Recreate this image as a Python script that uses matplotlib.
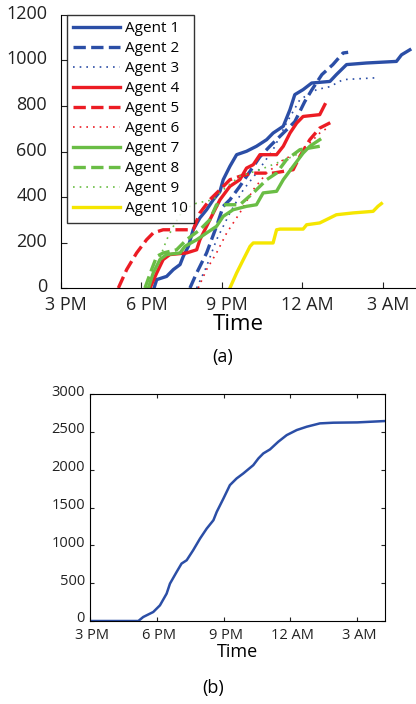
import numpy as np
import matplotlib
matplotlib.use('Agg')
import matplotlib.pyplot as plt
import matplotlib.transforms as mtransforms

plt.rcParams['font.family'] = ['Open Sans', 'DejaVu Sans']

# hours since midnight of the start day (15 = 3 PM, 27 = 3 AM)
a1_t = [18.47, 18.57, 18.94, 19.19, 19.44, 19.56, 19.75, 19.93, 20.18, 20.43, 20.68, 20.93, 21.05,
        21.30, 21.55, 21.92, 22.29, 22.67, 22.91, 23.29, 23.54, 23.72, 24.03, 24.35, 25.03, 25.27,
        25.65, 26.39, 27.51, 27.70, 28.01]
a1_v = [0, 37, 51, 81, 103, 139, 183, 256, 308, 344, 388, 425, 476, 535, 586, 601, 623, 652, 681,
        711, 784, 850, 872, 901, 908, 938, 982, 989, 996, 1025, 1047]

a2_t = [19.81, 20.06, 20.43, 20.80, 21.05, 21.30, 21.67, 22.42, 22.79, 23.72, 24.09, 24.36, 24.73,
        25.14, 25.52, 25.71]
a2_v = [0, 66, 154, 271, 359, 388, 447, 577, 623, 731, 819, 872, 938, 982, 1033, 1036]

a3_t = [20.06, 20.43, 20.80, 21.30, 21.80, 22.29, 22.91, 23.41, 23.91, 24.53, 25.03, 25.52, 26.77]
a3_v = [0, 95, 212, 330, 432, 505, 608, 725, 828, 872, 885, 916, 924]

a4_t = [18.32, 18.57, 18.81, 19.06, 19.68, 20.06, 20.18, 20.43, 20.68, 20.93, 21.30, 21.67, 21.92,
        22.17, 22.42, 23.04, 23.29, 23.54, 23.79, 24.03, 24.65, 24.84]
a4_v = [0, 66, 125, 147, 154, 168, 212, 271, 330, 388, 447, 476, 527, 542, 586, 586, 623, 681,
        725, 754, 762, 806]

a5_t = [17.14, 17.45, 17.82, 18.19, 18.44, 18.81, 19.93, 20.18, 20.55, 20.93, 21.30, 21.67, 22.17,
        22.91, 23.66, 23.91, 24.28, 24.65, 25.15]
a5_v = [0, 81, 154, 212, 242, 256, 256, 330, 388, 432, 476, 491, 505, 505, 520, 579, 652, 703, 733]

a6_t = [20.12, 20.43, 20.80, 21.18, 21.67, 22.17, 22.67, 23.29, 23.79, 24.28, 24.65, 25.03]
a6_v = [0, 81, 154, 242, 330, 432, 505, 564, 593, 637, 681, 711]

a7_t = [18.26, 18.44, 18.69, 18.94, 19.44, 19.62, 20.06, 20.43, 20.80, 21.05, 21.42, 21.92, 22.29,
        22.54, 23.04, 23.29, 23.66, 24.03, 24.28, 24.65]
a7_v = [0, 66, 125, 147, 154, 183, 212, 242, 271, 315, 344, 359, 366, 418, 425, 476, 535, 593,
        623, 652]

a8_t = [18.13, 18.38, 18.57, 18.81, 19.31, 19.68, 20.18, 20.55, 20.80, 21.42, 21.67, 22.17, 22.67,
        23.04, 23.41, 23.91, 24.65]
a8_v = [0, 81, 139, 154, 168, 212, 256, 300, 366, 366, 366, 418, 476, 505, 564, 608, 623]

a9_t = [18.19, 18.57, 18.94, 19.19, 19.56, 20.06, 20.68, 21.05, 21.67, 22.42, 23.04, 23.66, 24.16]
a9_v = [0, 95, 212, 271, 344, 373, 388, 432, 491, 520, 549, 579, 608]

a10_t = [21.30, 21.55, 21.80, 22.05, 22.17, 22.91, 23.04, 23.17, 24.03, 24.16, 24.65, 25.03, 25.27,
         25.89, 26.64, 26.82, 26.95]
a10_v = [0, 66, 125, 183, 198, 198, 256, 259, 259, 278, 286, 308, 322, 330, 337, 359, 371]

total_t = [15.0, 17.17, 17.39, 17.84, 18.14, 18.44, 18.59, 18.89, 19.11, 19.34, 19.63, 19.94, 20.24,
           20.54, 20.69, 20.99, 21.28, 21.58, 21.88, 22.33, 22.56, 22.78, 23.08, 23.45, 23.83,
           24.28, 24.73, 25.32, 25.92, 27.00, 28.24]
total_v = [0, 0, 53, 119, 207, 362, 494, 649, 759, 803, 935, 1090, 1222, 1332, 1443, 1619, 1796,
           1884, 1950, 2060, 2149, 2215, 2268, 2369, 2457, 2524, 2568, 2612, 2621, 2625, 2643]

tick_hours = [15, 18, 21, 24, 27]
tick_labels = ['3 PM', '6 PM', '9 PM', '12 AM', '3 AM']

blue = '#2b4ea6'
red = '#ec1c24'
green = '#6abd45'
yellow = '#f5e600'

agents = [
    (a1_t, a1_v, blue, '-', 2.4),
    (a2_t, a2_v, blue, '--', 2.4),
    (a3_t, a3_v, blue, ':', 1.2),
    (a4_t, a4_v, red, '-', 2.4),
    (a5_t, a5_v, red, '--', 2.4),
    (a6_t, a6_v, red, ':', 1.2),
    (a7_t, a7_v, green, '-', 2.4),
    (a8_t, a8_v, green, '--', 2.4),
    (a9_t, a9_v, green, ':', 1.2),
    (a10_t, a10_v, yellow, '-', 2.4),
]


def shift_labels(fig, labels, dx, dy):
    # nudge tick labels by a few pixels, like the original figure
    off = mtransforms.ScaledTranslation(dx / 100, dy / 100, fig.dpi_scale_trans)
    for lab in labels:
        lab.set_transform(lab.get_transform() + off)


fig = plt.figure(figsize=(4.16, 7.04), dpi=100)

# (a) per-agent cumulative counts
ax1 = fig.add_axes([0.1466, 0.5909, 0.8534, 0.3878])
for i, (t, v, c, ls, lw) in enumerate(agents):
    if ls == ':':
        ax1.plot(t, v, color=c, linestyle=(0, (1, 3)), linewidth=lw, label=f'Agent {i + 1}')
    else:
        ax1.plot(t, v, color=c, linestyle=ls, linewidth=lw, label=f'Agent {i + 1}')
ax1.set_xlim(15, 28.24)
ax1.set_ylim(0, 1200)
ax1.set_xticks(tick_hours)
ax1.set_xticklabels(tick_labels)
ax1.set_yticks(np.arange(0, 1201, 200))
ax1.spines['top'].set_visible(False)
ax1.spines['right'].set_visible(False)
ax1.tick_params(direction='in', labelsize=13, length=4, colors='#222222')
ax1.tick_params(axis='y', pad=10)
ax1.tick_params(axis='x', pad=6)
shift_labels(fig, ax1.get_xticklabels(), 5, 0)
shift_labels(fig, ax1.get_yticklabels(), 0, 3)
ax1.set_xlabel('Time', fontsize=16, labelpad=0)
leg = ax1.legend(loc='upper left', bbox_to_anchor=(0.017, 1.0), borderaxespad=0, fontsize=11,
                 handlelength=3.1, handletextpad=0.3, labelspacing=0.33, frameon=True,
                 fancybox=False, edgecolor='black', borderpad=0.4)
leg.get_frame().set_linewidth(1.0)
fig.text(0.536, 0.493, '(a)', ha='center', va='center', fontsize=13)

# (b) total
ax2 = fig.add_axes([0.2163, 0.1179, 0.7091, 0.3224])
ax2.plot(total_t, total_v, color=blue, linewidth=1.8)
ax2.set_xlim(15, 28.24)
ax2.set_ylim(0, 3000)
ax2.set_xticks(tick_hours)
ax2.set_xticklabels(tick_labels)
ax2.set_yticks(np.arange(0, 3001, 500))
ax2.tick_params(direction='in', labelsize=10.5, length=3, top=True, right=True, colors='#222222')
ax2.tick_params(axis='x', pad=5)
shift_labels(fig, ax2.get_xticklabels(), 2, 0)
shift_labels(fig, ax2.get_yticklabels(), 0, 4)
ax2.set_xlabel('Time', fontsize=13, labelpad=0)
fig.text(0.512, 0.0225, '(b)', ha='center', va='center', fontsize=13)

fig.savefig('out.png', dpi=100)
